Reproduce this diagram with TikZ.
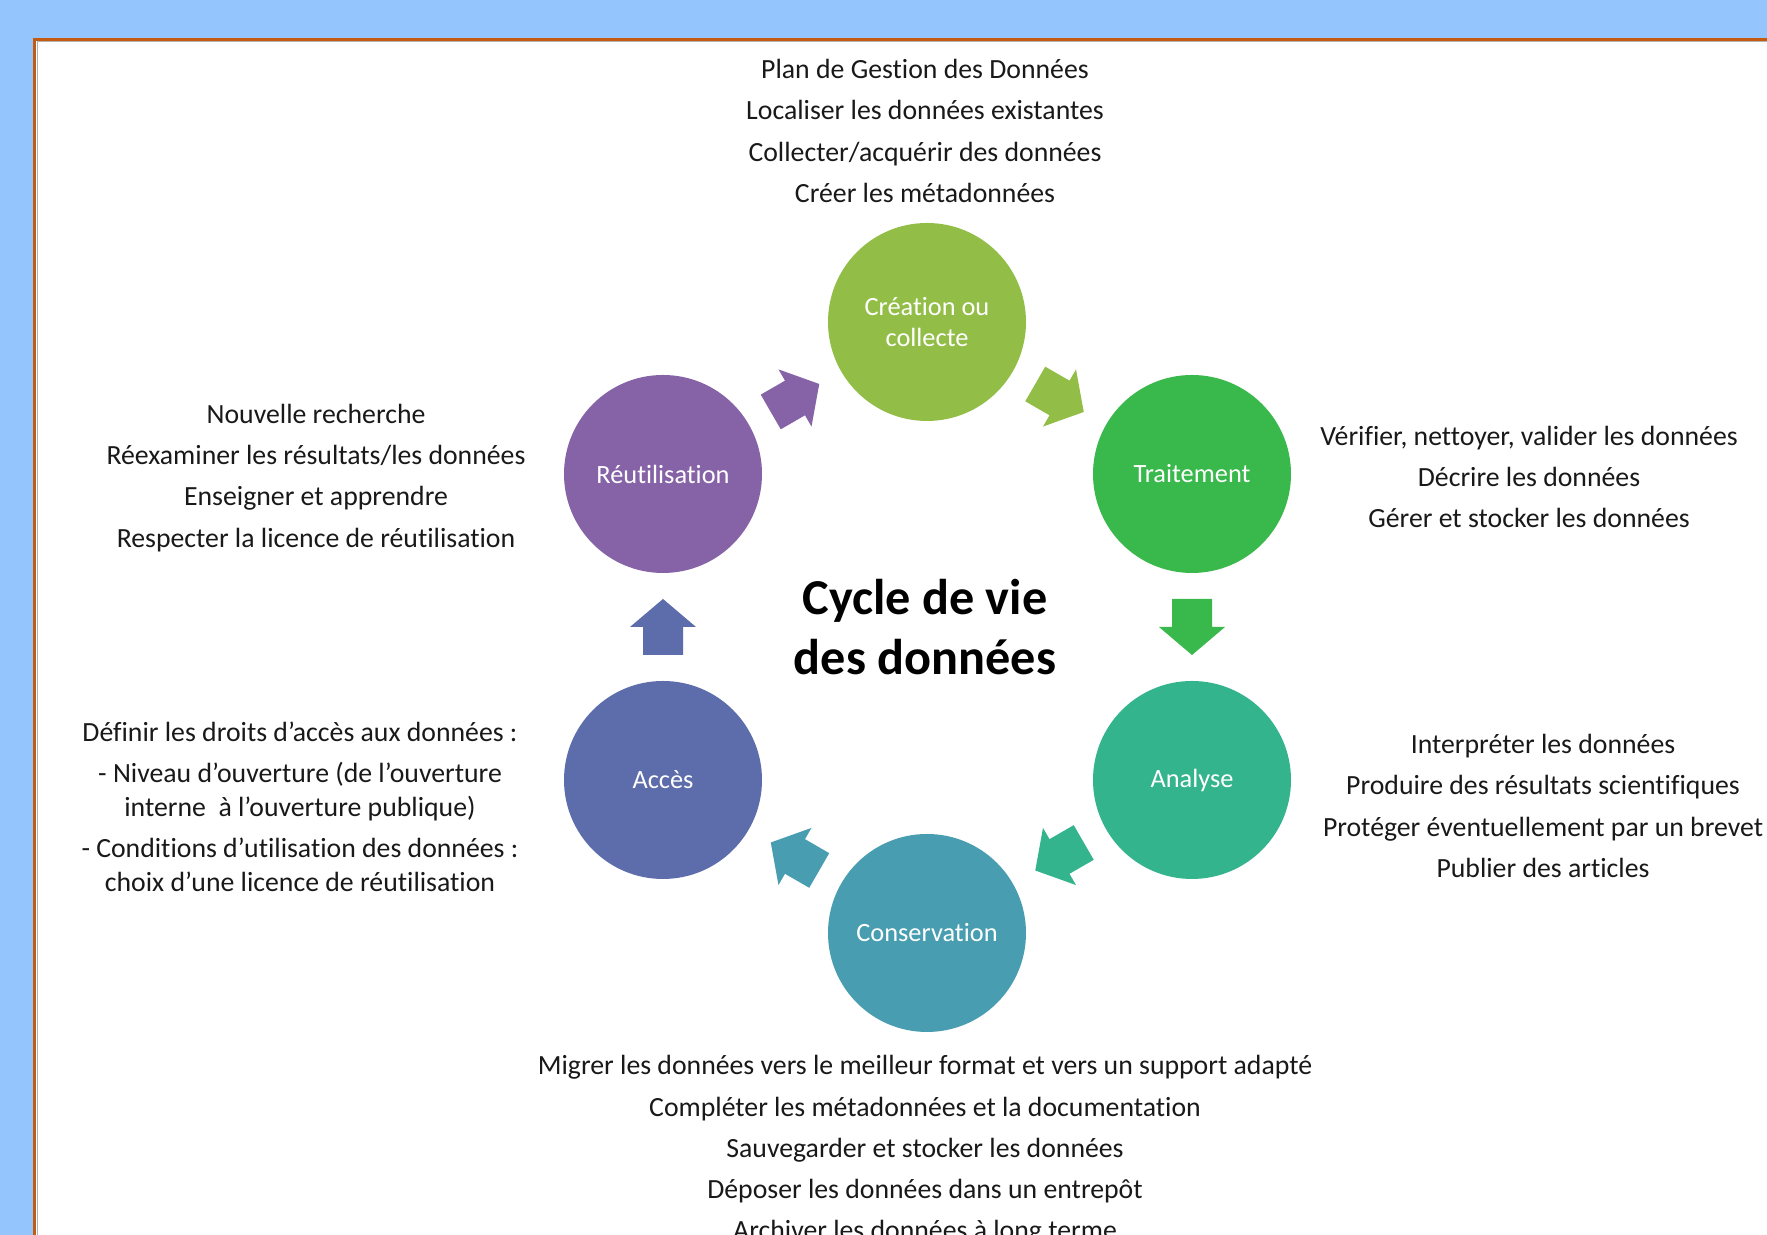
\documentclass[tikz,border=0pt]{standalone}
\usepackage{fontspec}
\setmainfont{Carlito}[Ligatures=NoCommon]
\usetikzlibrary{calc}

\definecolor{bgblue}{RGB}{148,197,253}
\definecolor{frameorange}{RGB}{197,90,17}
\definecolor{creacol}{RGB}{146,190,72}
\definecolor{traitcol}{RGB}{57,184,75}
\definecolor{analcol}{RGB}{51,180,140}
\definecolor{conscol}{RGB}{72,158,176}
\definecolor{accescol}{RGB}{93,108,170}
\definecolor{reutcol}{RGB}{134,98,167}

\tikzset{
  stage/.style    ={circle, minimum size=19.8mm, inner sep=0pt, text=white, align=center, font=\fontsize{7.5}{8.6}\selectfont},
  tasks/.style    ={align=center, text=black!90, inner sep=0pt, font=\fontsize{7.9}{11.7}\selectfont},
  bigtitle/.style ={align=center, inner sep=0pt, font=\bfseries\fontsize{14.3}{17}\selectfont},
  blockarrow/.pic ={\fill (-28,-20) -- (0,-20) -- (0,-33) -- (28,0) -- (0,33) -- (0,20) -- (-28,20) -- cycle;}
}

\begin{document}
\begin{tikzpicture}[x=0.1mm, y=0.1mm]
    \useasboundingbox (0,0) rectangle (1767,1235);
    \clip (0,0) rectangle (1767,1235);

    % background and frame
    \fill[bgblue] (0,0) rectangle (1767,1235);
    \fill[white] (34.5,-20) rectangle (1800,1195.8);
    \draw[frameorange, line width=0.3mm] (34.5,-20) -- (34.5,1195.8) -- (1800,1195.8);
    \draw[black!30, line width=0.1mm] (37,-20) -- (37,1193.5) -- (1800,1193.5);

    % stages of the cycle
    \node[stage, fill=creacol]  (crea)  at (927,913) {Création ou\\collecte};
    \node[stage, fill=traitcol] (trait) at (1192,761) {Traitement};
    \node[stage, fill=analcol]  (anal)  at (1192,455) {Analyse};
    \node[stage, fill=conscol]  (cons)  at (927,302) {Conservation};
    \node[stage, fill=accescol] (acces) at (663,455) {Accès};
    \node[stage, fill=reutcol]  (reut)  at (663,761) {Réutilisation};

    % title
    \node[bigtitle] (titre) at (925,608) {Cycle de vie\\des données};

    % arrows between stages
    \pic[rotate=30,  fill=reutcol]  at ($(reut)!.5!(crea)$)  {blockarrow};
    \pic[rotate=-30, fill=creacol]  at ($(crea)!.5!(trait)$) {blockarrow};
    \pic[rotate=-90, fill=traitcol] at ($(trait)!.5!(anal)$) {blockarrow};
    \pic[rotate=210, fill=analcol]  at ($(anal)!.5!(cons)$)  {blockarrow};
    \pic[rotate=150, fill=conscol]  at ($(cons)!.5!(acces)$) {blockarrow};
    \pic[rotate=90,  fill=accescol] at ($(acces)!.5!(reut)$) {blockarrow};

    % tasks of each stage
    \node[tasks] (tcrea) at (925,1104) {Plan de Gestion des Données\\Localiser les données existantes\\Collecter/acquérir des données\\Créer les métadonnées};
    \node[tasks] (ttrait) at (1529,758) {Vérifier, nettoyer, valider les données\\Décrire les données\\Gérer et stocker les données};
    \node[tasks] (tanal) at (1543,429) {Interpréter les données\\Produire des résultats scientifiques\\Protéger éventuellement\ par un brevet\\Publier des articles};
    \node[tasks] (tcons) at (925,85) {Migrer les données vers le meilleur format et vers un support adapté\\Compléter les métadonnées et la documentation\\Sauvegarder et stocker les données\\Déposer les données dans un entrepôt\\Archiver les données à long terme};
    \node[tasks, font=\fontsize{7.9}{9.6}\selectfont] (tacces) at (300,428) {Définir les droits d’accès aux données :\\[2.1pt]- Niveau d’ouverture (de l’ouverture\\interne\ \ à l’ouverture publique)\\[2.1pt]- Conditions d’utilisation des données :\\choix d’une licence de réutilisation};
    \node[tasks] (treut) at (316,757) {Nouvelle recherche\\Réexaminer les résultats/les données\\Enseigner et apprendre\\Respecter la licence de réutilisation};
\end{tikzpicture}
\end{document}
